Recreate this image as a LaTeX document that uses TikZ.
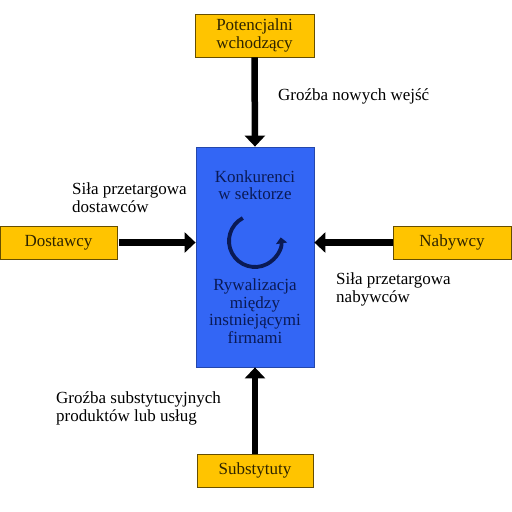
\documentclass[tikz,border=0pt]{standalone}
\usepackage{fontspec}
\setmainfont{Liberation Serif}
\usetikzlibrary{arrows.meta}
\definecolor{boxyellow}{HTML}{FFC400}
\definecolor{boxblue}{HTML}{3366F5}
\definecolor{yellowtext}{HTML}{2E2400}
\definecolor{bluetext}{HTML}{0A1A55}

\begin{document}
\begin{tikzpicture}[x=1pt, y=-1pt, >={Triangle[width=20pt,length=11pt]},
    force/.style={draw=black!60!boxyellow, fill=boxyellow, text=yellowtext, line width=0.8pt,
      minimum width=117pt, minimum height=33pt, inner sep=0pt, align=center,
      font=\fontsize{17}{17.5}\selectfont},
    label/.style={anchor=west, align=left, inner sep=0pt, font=\fontsize{17}{18}\selectfont},
    push/.style={->, line width=6.5pt}]
      \useasboundingbox (0,0) rectangle (512,512);

      % the sector in the middle
      \node[draw=boxblue!70!black, fill=boxblue, line width=0.8pt, minimum width=118pt, minimum height=220pt] (sector) at (255,257) {};
      \node[align=center, text=bluetext, font=\fontsize{17}{16.5}\selectfont] (competitors) at (255,185) {Konkurenci\\w sektorze};
      \node[align=center, text=bluetext, font=\fontsize{17}{17.5}\selectfont] (rivalry) at (255,311) {Rywalizacja\\między\\instniejącymi\\firmami};
      \draw[bluetext, line width=3.8pt, -{Triangle[width=11pt,length=6pt]}] (255,241) ++(-118:26) arc[start angle=-118, end angle=-368, radius=26];

      % the four outside forces
      \node[force, minimum width=119pt, minimum height=43pt] (entrants) at (254.5,35.5) {Potencjalni\\wchodzący};
      \node[force] (suppliers) at (58.5,242.5) {Dostawcy};
      \node[force, minimum width=118pt] (buyers) at (452,242.5) {Nabywcy};
      \node[force, minimum width=116pt] (substitutes) at (255,470.5) {Substytuty};

      \draw[push] (entrants.south) -- (sector.north);
      \draw[push] ([xshift=2pt]suppliers.east) -- (suppliers.east -| sector.west);
      \draw[push] (buyers.west) -- (buyers.west -| sector.east);
      \draw[push] (substitutes.north) -- (sector.south);

      \node[label] (newentry) at (278,96) {Groźba nowych wejść};
      \node[label] (supplierpower) at (72,198) {Siła przetargowa\\dostawców};
      \node[label] (buyerpower) at (336,289) {Siła przetargowa\\nabywców};
      \node[label] (substitution) at (56,408) {Groźba substytucyjnych\\produktów lub usług};
    \end{tikzpicture}
\end{document}
